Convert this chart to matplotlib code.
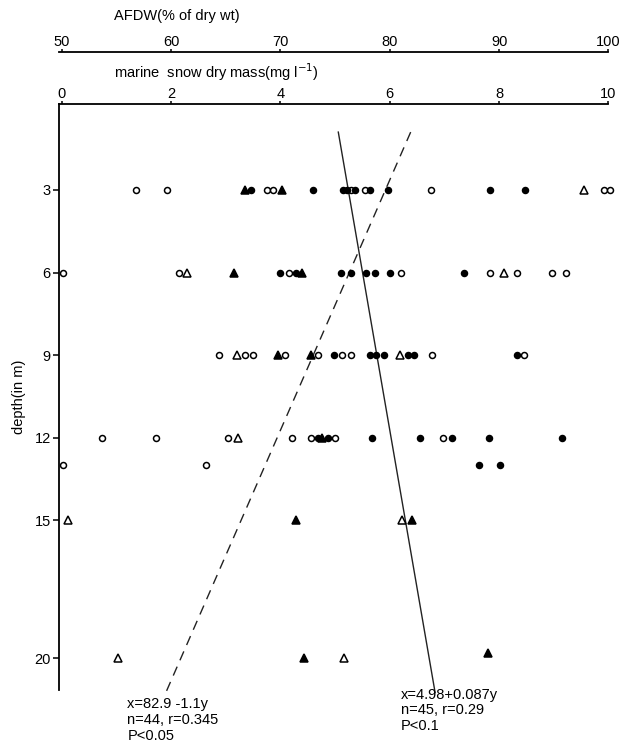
import matplotlib
matplotlib.use("Agg")
import matplotlib.pyplot as plt
import numpy as np

plt.rcParams['font.family'] = ['Liberation Sans', 'DejaVu Sans']

# ---- data (dry mass, mg/l, read on the lower top axis) ----
open_circles = {
    3: [1.35, 1.93, 3.76, 3.87, 5.29, 5.55, 6.75, 9.91, 10.02],
    6: [0.02, 2.15, 4.16, 6.2, 7.84, 8.33, 8.96, 9.22],
    9: [2.87, 3.35, 3.49, 4.09, 4.69, 5.13, 5.29, 6.78, 8.45],
    12: [0.73, 1.73, 3.04, 4.22, 4.56, 5.0, 6.98],
    13: [0.02, 2.64],
}
filled_circles = {
    3: [3.47, 4.6, 5.15, 5.22, 5.36, 5.64, 5.96, 7.84, 8.47],
    6: [4.0, 4.29, 5.11, 5.29, 5.56, 5.73, 6.0, 7.35],
    9: [4.98, 5.64, 5.75, 5.89, 6.33, 6.44, 8.33],
    12: [4.69, 4.87, 5.67, 6.56, 7.13, 7.82, 9.15],
    13: [7.64, 8.02],
}
open_triangles = {
    3: [9.55],
    6: [2.29, 8.09],
    9: [3.2, 6.18],
    12: [3.22],
    15: [0.12, 6.22],
    20: [1.02, 5.16],
}
filled_triangles = {
    3: [3.36, 4.02],
    6: [3.15, 4.4],
    9: [3.96, 4.56],
    12: [4.76],
    15: [4.29, 6.4],
    20: [4.44],
    19.8: [7.8],
}

# regression lines
dm_a, dm_b = 4.98, 0.087        # x = 4.98 + 0.087 y  (dry mass)
af_a, af_b = 82.9, -1.1         # x = 82.9 - 1.1 y    (AFDW)
dm_depth_range = [0.9, 21.25]
af_depth_range = [0.9, 21.35]

yticks = [3, 6, 9, 12, 15, 20]
dm_ticks = [0, 2, 4, 6, 8, 10]
af_ticks = [50, 60, 70, 80, 90, 100]


def dm2af(x):
    return 50 + 5 * np.asarray(x)


def af2dm(x):
    return (np.asarray(x) - 50) / 5


fig = plt.figure(figsize=(6.23, 7.44), dpi=100)
ax = fig.add_axes([0.0947, 0.0726, 0.882, 0.7876])

ax.set_xlim(-0.05, 10.0)
ax.set_ylim(21.16, -0.12)


def scatter(d, marker, filled, ms):
    for depth, xs in d.items():
        ax.plot(xs, [depth] * len(xs), linestyle='none', marker=marker,
                markersize=ms, markeredgecolor='black',
                markerfacecolor='black' if filled else 'white',
                markeredgewidth=1.1, zorder=3, clip_on=False)


scatter(open_circles, 'o', False, 4.3)
scatter(filled_circles, 'o', True, 4.3)
scatter(open_triangles, '^', False, 5.5)
scatter(filled_triangles, '^', True, 5.5)

yd = np.array(dm_depth_range)
ax.plot(dm_a + dm_b * yd, yd, color='#222222', lw=1.0, zorder=2, clip_on=False)
ya = np.array(af_depth_range)
ax.plot(af2dm(af_a + af_b * ya), ya, color='#222222', lw=1.0,
        linestyle=(0, (7, 5)), zorder=2, clip_on=False)

# axes styling
for s in ['right', 'bottom']:
    ax.spines[s].set_visible(False)
ax.spines['left'].set_linewidth(1.3)
ax.spines['top'].set_linewidth(1.3)
ax.xaxis.tick_top()
ax.set_xticks(dm_ticks)
ax.set_xticklabels([str(t) for t in dm_ticks])
ax.set_yticks(yticks)
ax.set_yticklabels([str(t) for t in yticks])
ax.tick_params(axis='both', direction='out', length=4, width=1.1,
               labelsize=10.5, pad=2)
ax.tick_params(axis='x', length=2.5, pad=0)

sec = ax.secondary_xaxis(1.088, functions=(dm2af, af2dm))
sec.set_xticks(af_ticks)
sec.set_xticklabels([str(t) for t in af_ticks])
sec.spines['top'].set_linewidth(1.3)
sec.tick_params(direction='out', length=2.5, width=1.1, labelsize=10.5, pad=0)

ax.text(0.1, 1.054, 'marine  snow dry mass(mg l$^{-1}$)', transform=ax.transAxes,
        fontsize=10.5, ha='left', va='center')
ax.text(0.1, 1.15, 'AFDW(% of dry wt)', transform=ax.transAxes,
        fontsize=10.5, ha='left', va='center')
ax.set_ylabel('depth(in m)', fontsize=10.5, labelpad=6)

ax.text(1.2, 21.43, 'x=82.9 -1.1y\nn=44, r=0.345\nP<0.05', fontsize=10.5,
        ha='left', va='top', linespacing=1.15, clip_on=False)
ax.text(6.2, 21.07, 'x=4.98+0.087y\nn=45, r=0.29\nP<0.1', fontsize=10.5,
        ha='left', va='top', linespacing=1.15, clip_on=False)

fig.savefig('out.png', dpi=100)
